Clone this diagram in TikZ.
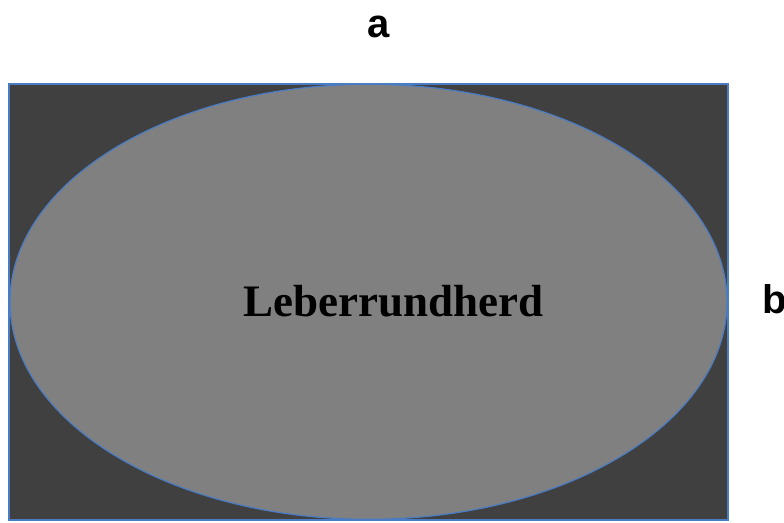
\documentclass[tikz,border=0pt]{standalone}
\usepackage{fontspec}
\setmainfont{Liberation Serif}
\newfontfamily\labelfont{Liberation Sans}
\usetikzlibrary{shapes.geometric,positioning}
\definecolor{darkfill}{HTML}{404040}
\definecolor{lightfill}{HTML}{808080}
\definecolor{edgeblue}{HTML}{4A7CC4}
\begin{document}
\begin{tikzpicture}[x=1pt,y=-1pt]
\useasboundingbox (0,0) rectangle (784,522);
\node[draw=edgeblue,line width=1.6pt,fill=darkfill,inner sep=0,minimum width=719pt,minimum height=436pt](box) at (368.5,301.8){};
\node[draw=edgeblue,line width=1.2pt,fill=lightfill,ellipse,inner sep=0,minimum width=717pt,minimum height=435pt](herd) at (368.5,301.8){};
\node[anchor=base west,inner sep=0,font=\fontsize{45}{50}\selectfont\bfseries](name) at (243,316){Leberrundherd};

\node[anchor=base,inner sep=0,font=\labelfont\fontsize{40}{46}\selectfont\bfseries](a) at (379,37){a};
\node[anchor=base west,inner sep=0,font=\labelfont\fontsize{40}{46}\selectfont\bfseries](b) at (762,313){b};
\end{tikzpicture}
\end{document}
